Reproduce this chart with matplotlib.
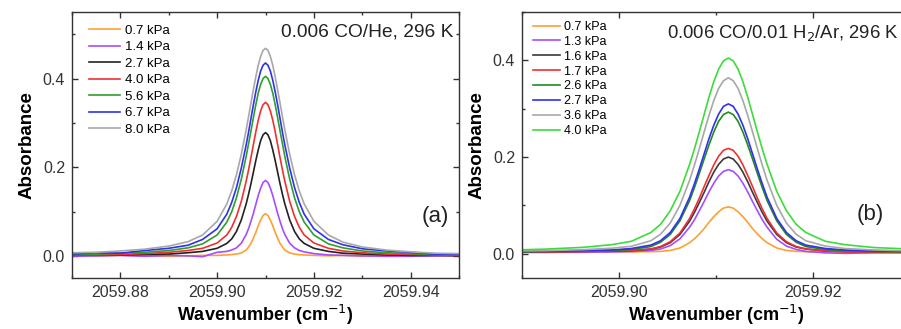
import matplotlib
matplotlib.use("Agg")
import matplotlib.pyplot as plt
from matplotlib.ticker import MultipleLocator, FormatStrFormatter

plt.rcParams['font.family'] = ['Liberation Sans', 'DejaVu Sans']

# panel (a): 0.006 CO/He
wn_a = [2059.870, 2059.875, 2059.880, 2059.885, 2059.890, 2059.894, 2059.897, 2059.900, 2059.902, 2059.903,
        2059.904, 2059.905, 2059.906, 2059.9065, 2059.907, 2059.9075, 2059.908, 2059.9085, 2059.909, 2059.9095,
        2059.910,
        2059.9105, 2059.911, 2059.9115, 2059.912, 2059.9125, 2059.913, 2059.9135, 2059.914, 2059.915, 2059.916,
        2059.917, 2059.918, 2059.920, 2059.923, 2059.926, 2059.930, 2059.935, 2059.940, 2059.945, 2059.950]
labels_a = ["0.7 kPa", "1.4 kPa", "2.7 kPa", "4.0 kPa", "5.6 kPa", "6.7 kPa", "8.0 kPa"]
colors_a = ["#FFA033", "#A64DFF", "#222222", "#F03030", "#2E9E2E", "#3030F0", "#A8A8A8"]
abs_a_07 = [0.000, -0.001, 0.001, 0.000, -0.001, 0.000, 0.001, 0.001, 0.002, 0.003,
            0.004, 0.0065, 0.013, 0.020, 0.028, 0.040, 0.053, 0.068, 0.081, 0.091,
            0.095,
            0.091, 0.081, 0.068, 0.053, 0.040, 0.028, 0.020, 0.013, 0.0065, 0.004,
            0.0025, 0.002, 0.001, 0.000, 0.001, -0.001, 0.000, -0.001, 0.000, 0.001]
abs_a_14 = [-0.001, 0.000, 0.001, -0.001, 0.001, 0.000, -0.002, 0.008, 0.010, 0.013,
            0.018, 0.0285, 0.048, 0.0615, 0.078, 0.096, 0.116, 0.136, 0.153, 0.1655,
            0.170,
            0.1655, 0.153, 0.136, 0.116, 0.096, 0.078, 0.0615, 0.048, 0.0285, 0.018,
            0.012, 0.009, 0.005, 0.002, 0.001, 0.000, -0.001, -0.001, 0.000, 0.001]
abs_a_27 = [0.001, 0.002, 0.002, 0.003, 0.004, 0.007, 0.010, 0.017, 0.028, 0.038,
            0.055, 0.081, 0.117, 0.139, 0.163, 0.189, 0.215, 0.239, 0.260, 0.273,
            0.278,
            0.273, 0.260, 0.239, 0.215, 0.189, 0.163, 0.139, 0.117, 0.081, 0.055,
            0.038, 0.028, 0.017, 0.010, 0.006, 0.004, 0.002, 0.001, 0.001, 0.000]
abs_a_40 = [0.002, 0.002, 0.003, 0.005, 0.008, 0.012, 0.017, 0.029, 0.047, 0.064,
            0.089, 0.123, 0.168, 0.194, 0.222, 0.251, 0.280, 0.306, 0.327, 0.341,
            0.346,
            0.341, 0.327, 0.306, 0.280, 0.251, 0.222, 0.194, 0.168, 0.123, 0.089,
            0.064, 0.047, 0.029, 0.017, 0.011, 0.007, 0.004, 0.003, 0.002, 0.001]
abs_a_56 = [0.003, 0.004, 0.006, 0.008, 0.012, 0.018, 0.027, 0.047, 0.076, 0.099,
            0.131, 0.173, 0.224, 0.253, 0.282, 0.312, 0.341, 0.367, 0.387, 0.400,
            0.405,
            0.400, 0.387, 0.367, 0.341, 0.312, 0.282, 0.253, 0.224, 0.173, 0.131,
            0.099, 0.076, 0.047, 0.027, 0.018, 0.011, 0.007, 0.005, 0.003, 0.002]
abs_a_67 = [0.004, 0.007, 0.006, 0.012, 0.017, 0.024, 0.037, 0.061, 0.094, 0.120,
            0.154, 0.198, 0.250, 0.279, 0.310, 0.341, 0.370, 0.396, 0.417, 0.430,
            0.435,
            0.430, 0.417, 0.396, 0.370, 0.341, 0.310, 0.279, 0.250, 0.198, 0.154,
            0.120, 0.094, 0.061, 0.037, 0.025, 0.016, 0.011, 0.008, 0.004, 0.003]
abs_a_80 = [0.007, 0.008, 0.011, 0.015, 0.022, 0.032, 0.047, 0.078, 0.117, 0.146,
            0.183, 0.229, 0.284, 0.314, 0.345, 0.375, 0.404, 0.430, 0.450, 0.4635,
            0.468,
            0.4635, 0.450, 0.430, 0.404, 0.375, 0.345, 0.314, 0.284, 0.229, 0.183,
            0.146, 0.117, 0.078, 0.047, 0.031, 0.020, 0.013, 0.009, 0.006, 0.005]

# panel (b): 0.006 CO/0.01 H2/Ar
wn_b = [2059.8893, 2059.8923, 2059.8963, 2059.8993, 2059.9013, 2059.9033, 2059.9043, 2059.9053, 2059.9063,
        2059.9073, 2059.9078, 2059.9083, 2059.9088, 2059.9093, 2059.9098, 2059.9103, 2059.9108,
        2059.9113,
        2059.9118, 2059.9123, 2059.9128, 2059.9133, 2059.9138, 2059.9143, 2059.9148, 2059.9153,
        2059.9163, 2059.9173, 2059.9183, 2059.9193, 2059.9213, 2059.9233, 2059.9263, 2059.9303]
labels_b = ["0.7 kPa", "1.3 kPa", "1.6 kPa", "1.7 kPa", "2.6 kPa", "2.7 kPa", "3.6 kPa", "4.0 kPa"]
colors_b = ["#FFA033", "#A64DFF", "#3A3A3A", "#F03030", "#1E8C1E", "#3030F0", "#A8A8A8", "#3CDC3C"]
abs_b_07 = [0.003, 0.003, 0.003, 0.004, 0.004, 0.0045, 0.005, 0.007, 0.012, 0.023, 0.031, 0.041, 0.052, 0.065,
            0.077, 0.087, 0.0945,
            0.097,
            0.0945, 0.087, 0.077, 0.065, 0.052, 0.041, 0.031, 0.023, 0.012, 0.007, 0.005, 0.0045, 0.004, 0.004,
            0.003, 0.003]
abs_b_13 = [0.003, 0.003, 0.004, 0.004, 0.005, 0.007, 0.010, 0.017, 0.031, 0.055, 0.0705, 0.089, 0.108, 0.128,
            0.146, 0.161, 0.1705,
            0.174,
            0.1705, 0.161, 0.146, 0.128, 0.108, 0.089, 0.0705, 0.055, 0.030, 0.016, 0.009, 0.005, 0.002, 0.001,
            0.002, 0.002]
abs_b_16 = [0.004, 0.004, 0.005, 0.0055, 0.0066, 0.0097, 0.014, 0.023, 0.040, 0.0675, 0.0855, 0.106, 0.127, 0.149,
            0.169, 0.185, 0.196,
            0.200,
            0.196, 0.185, 0.169, 0.149, 0.127, 0.106, 0.0855, 0.0675, 0.040, 0.023, 0.014, 0.010, 0.006, 0.005,
            0.004, 0.003]
abs_b_17 = [0.004, 0.004, 0.005, 0.006, 0.007, 0.010, 0.015, 0.025, 0.043, 0.073, 0.093, 0.115, 0.139, 0.162,
            0.184, 0.202, 0.214,
            0.218,
            0.214, 0.202, 0.184, 0.162, 0.139, 0.115, 0.093, 0.073, 0.043, 0.025, 0.015, 0.010, 0.006, 0.004,
            0.004, 0.003]
abs_b_26 = [0.004, 0.005, 0.006, 0.007, 0.009, 0.015, 0.024, 0.040, 0.068, 0.110, 0.137, 0.166, 0.196, 0.225,
            0.252, 0.274, 0.288,
            0.293,
            0.288, 0.274, 0.252, 0.225, 0.196, 0.166, 0.137, 0.110, 0.068, 0.040, 0.024, 0.015, 0.009, 0.007,
            0.005, 0.004]
abs_b_27 = [0.005, 0.005, 0.007, 0.008, 0.011, 0.018, 0.027, 0.044, 0.073, 0.117, 0.145, 0.175, 0.2065, 0.238,
            0.266, 0.289, 0.305,
            0.310,
            0.305, 0.289, 0.266, 0.238, 0.2065, 0.175, 0.145, 0.117, 0.073, 0.044, 0.027, 0.018, 0.011, 0.008,
            0.006, 0.005]
abs_b_36 = [0.006, 0.0065, 0.0086, 0.0116, 0.0157, 0.027, 0.0405, 0.0635, 0.100, 0.152, 0.1835, 0.217, 0.252,
            0.286, 0.317, 0.342, 0.358,
            0.364,
            0.358, 0.342, 0.317, 0.286, 0.252, 0.217, 0.1835, 0.152, 0.100, 0.0635, 0.0405, 0.027, 0.016, 0.011,
            0.008, 0.006]
abs_b_40 = [0.008, 0.0096, 0.0134, 0.019, 0.026, 0.044, 0.061, 0.089, 0.129, 0.185, 0.217, 0.252, 0.288, 0.324,
            0.356, 0.382, 0.399,
            0.405,
            0.399, 0.382, 0.356, 0.324, 0.288, 0.252, 0.217, 0.185, 0.129, 0.089, 0.061, 0.044, 0.026, 0.019,
            0.013, 0.0096]

series_a = [abs_a_07, abs_a_14, abs_a_27, abs_a_40, abs_a_56, abs_a_67, abs_a_80]
series_b = [abs_b_07, abs_b_13, abs_b_16, abs_b_17, abs_b_26, abs_b_27, abs_b_36, abs_b_40]


def style_axes(ax, xlim, ylim, xmajor):
    ax.set_xlim(*xlim)
    ax.set_ylim(*ylim)
    ax.xaxis.set_major_locator(MultipleLocator(xmajor))
    ax.xaxis.set_minor_locator(MultipleLocator(xmajor / 2))
    ax.yaxis.set_major_locator(MultipleLocator(0.2))
    ax.yaxis.set_minor_locator(MultipleLocator(0.1))
    ax.xaxis.set_major_formatter(FormatStrFormatter('%.2f'))
    ax.yaxis.set_major_formatter(FormatStrFormatter('%.1f'))
    ax.tick_params(which='both', direction='in', top=True, right=True, labelsize=11.5,
                   color='#333333', labelcolor='#333333')
    ax.tick_params(which='major', length=4, width=1, pad=5)
    ax.tick_params(which='minor', length=2.5, width=1)
    for sp in ax.spines.values():
        sp.set_color('#333333')
        sp.set_linewidth(1)
    ax.set_xlabel("Wavenumber (cm$^{-1}$)", fontsize=13, fontweight='bold', labelpad=2)
    ax.set_ylabel("Absorbance", fontsize=13.5, fontweight='bold', labelpad=5)


fig = plt.figure(figsize=(9.01, 3.29), dpi=100)
ax1 = fig.add_axes([72 / 901, 51 / 329, 387 / 901, 266 / 329])
ax2 = fig.add_axes([522 / 901, 51 / 329, 387.5 / 901, 266 / 329])

for y, lab, c in zip(series_a, labels_a, colors_a):
    ax1.plot(wn_a, y, color=c, lw=1.2, label=lab)
for y, lab, c in zip(series_b, labels_b, colors_b):
    ax2.plot(wn_b, y, color=c, lw=1.2, label=lab)

style_axes(ax1, (2059.87, 2059.95), (-0.05, 0.55), 0.02)
style_axes(ax2, (2059.89, 2059.93), (-0.05, 0.5), 0.02)

ax1.legend(loc='upper left', bbox_to_anchor=(0.031, 0.972), frameon=False, fontsize=9.5,
           handlelength=2.3, handletextpad=0.4, labelspacing=0.32, borderaxespad=0)
ax2.legend(loc='upper left', bbox_to_anchor=(0.015, 0.985), frameon=False, fontsize=9,
           handlelength=2.2, handletextpad=0.3, labelspacing=0.23, borderaxespad=0)

ax1.text(0.985, 0.925, "0.006 CO/He, 296 K", transform=ax1.transAxes, ha='right', va='center',
         fontsize=13.8, color='#222222')
ax1.text(0.975, 0.23, "(a)", transform=ax1.transAxes, ha='right', va='center', fontsize=16, color='#222222')
ax2.text(0.373, 0.92, "0.006 CO/0.01 H$_2$/Ar, 296 K", transform=ax2.transAxes, ha='left', va='center',
         fontsize=13.3, color='#222222')
ax2.text(0.935, 0.24, "(b)", transform=ax2.transAxes, ha='right', va='center', fontsize=16, color='#222222')

fig.savefig("out.png", dpi=100)
